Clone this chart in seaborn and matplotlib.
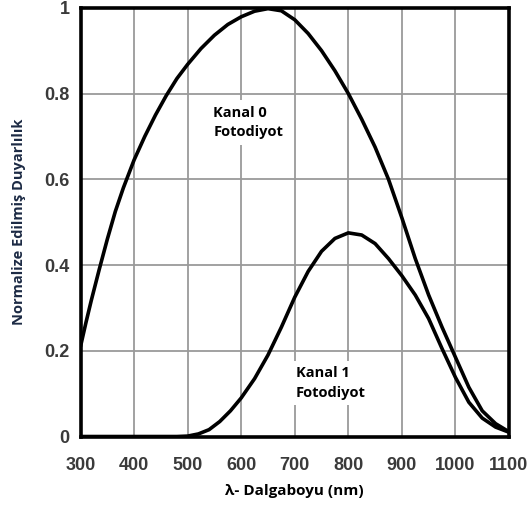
import matplotlib
matplotlib.use("Agg")
import matplotlib.pyplot as plt
import seaborn as sns
import pandas as pd

# Kanal 0 photodiode
wl_k0 = [300, 310, 320, 335, 350, 365, 380, 400, 420, 440, 460, 480, 500, 525, 550,
         575, 600, 625, 650, 675, 700, 725, 750, 775, 800, 825, 850, 875, 900, 925,
         950, 975, 1000, 1025, 1050, 1075, 1100]
resp_k0 = [0.21, 0.265, 0.317, 0.39, 0.46, 0.525, 0.58, 0.645, 0.70, 0.75, 0.795,
           0.835, 0.868, 0.905, 0.936, 0.961, 0.979, 0.992, 0.998, 0.993, 0.972,
           0.94, 0.90, 0.853, 0.80, 0.74, 0.675, 0.60, 0.51, 0.415, 0.33, 0.255,
           0.185, 0.115, 0.06, 0.03, 0.011]

# Kanal 1 photodiode
wl_k1 = [300, 480, 500, 520, 540, 560, 580, 600, 625, 650, 675, 700, 725, 750, 775,
         800, 825, 850, 875, 900, 925, 950, 975, 1000, 1025, 1050, 1075, 1100]
resp_k1 = [0.0, 0.0, 0.001, 0.006, 0.016, 0.035, 0.06, 0.09, 0.135, 0.19, 0.255,
           0.325, 0.385, 0.432, 0.462, 0.475, 0.47, 0.45, 0.415, 0.375, 0.33, 0.275,
           0.205, 0.138, 0.08, 0.043, 0.022, 0.01]

x_ticks = [300, 400, 500, 600, 700, 800, 900, 1000, 1100]
y_ticks = [0, 0.2, 0.4, 0.6, 0.8, 1]
y_tick_labels = ["0", "0.2", "0.4", "0.6", "0.8", "1"]

label_k0 = "Kanal 0\nFotodiyot"
label_k1 = "Kanal 1\nFotodiyot"
x_title = "λ- Dalgaboyu (nm)"
y_title = "Normalize Edilmiş Duyarlılık"

df0 = pd.DataFrame({"wl": wl_k0, "r": resp_k0})
df1 = pd.DataFrame({"wl": wl_k1, "r": resp_k1})

sns.set_style("white")
plt.rcParams['font.family'] = ['DejaVu Sans']

fig = plt.figure(figsize=(5.28, 5.05), dpi=100)
ax = fig.add_axes([0.1525, 0.1356, 0.8115, 0.849])

line_kw = dict(color="black", linewidth=2.6, solid_joinstyle="round", solid_capstyle="round")
sns.lineplot(data=df0, x="wl", y="r", ax=ax, **line_kw)
sns.lineplot(data=df1, x="wl", y="r", ax=ax, **line_kw)

ax.set_xlim(300, 1100)
ax.set_ylim(0, 1)
ax.set_xticks(x_ticks)
ax.set_yticks(y_ticks)
ax.set_yticklabels(y_tick_labels)
ax.grid(True, color="#9a9a9a", linewidth=1.3)
ax.set_axisbelow(True)
for s in ax.spines.values():
    s.set_color("black")
    s.set_linewidth(2.6)
ax.tick_params(length=0, labelsize=13, labelcolor="#3a3a3a")
ax.tick_params(axis="x", pad=15)
ax.tick_params(axis="y", pad=8)
for lbl in ax.get_xticklabels() + ax.get_yticklabels():
    lbl.set_fontweight("bold")
    lbl.set_family("Liberation Sans")

ax.set_xlabel(x_title, fontsize=11, fontweight="bold", color="black",
              family="Open Sans", labelpad=7)
ax.set_ylabel(y_title, fontsize=10.5, fontweight="bold", color="#1c2a44",
              family="Open Sans", labelpad=13)

bbox = dict(facecolor="white", edgecolor="none", pad=4)
ax.text(548, 0.733, label_k0, fontsize=10.5, fontweight="bold", family="Open Sans",
        va="center", ha="left", linespacing=1.5, bbox=bbox, color="black")
ax.text(702, 0.125, label_k1, fontsize=10.5, fontweight="bold", family="Open Sans",
        va="center", ha="left", linespacing=1.5, bbox=bbox, color="black")

fig.savefig("out.png", dpi=100)
